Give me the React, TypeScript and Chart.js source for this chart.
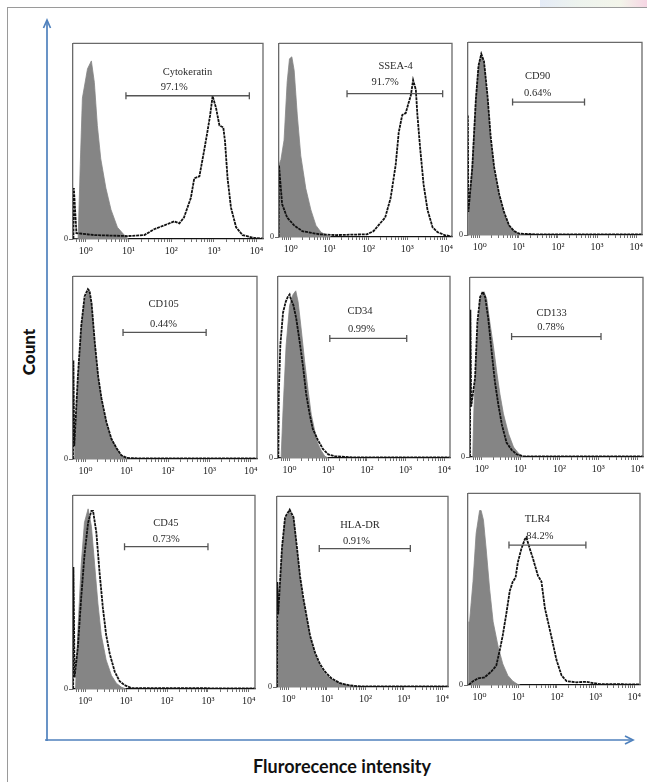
import React, { useEffect, useRef } from "react";
import { Chart, registerables } from "chart.js";
Chart.register(...registerables);

type Pt = [number, number];

// ---- axis ticks (x in decades of fluorescence intensity) ----
const decadeTicks = [0, 1, 2, 3, 4];
const decadeTickLabels = ["10⁰", "10¹", "10²", "10³", "10⁴"];
const minorMultipliers = [2, 3, 4, 5, 6, 7, 8, 9];
const minorDecades = [-1, 0, 1, 2, 3];
const countTicks = [0];
const countTickLabels = ["0"];
const xMin = -0.3;
const xMax = 4.15;

// ---- panel annotations ----
const markerNames = ["Cytokeratin", "SSEA-4", "CD90", "CD105", "CD34", "CD133", "CD45", "HLA-DR", "TLR4"];
const percentPositive = ["97.1%", "91.7%", "0.64%", "0.44%", "0.99%", "0.78%", "0.73%", "0.91%", "84.2%"];
const gateStart = [0.94, 1.45, 0.84, 0.91, 1.04, 0.77, 0.96, 0.8, 0.76];
const gateEnd = [3.83, 3.91, 2.68, 2.92, 3.03, 3.07, 3.0, 3.17, 2.75];
const gateLevel = [73.2, 74, 69, 69.3, 65.8, 67, 73.5, 72.6, 73];
const nameAt: Pt[] = [[2.38, 85], [2.7, 88], [1.48, 82.6], [1.89, 84.5], [1.82, 81], [1.8, 80], [1.97, 85.7], [1.86, 85], [1.49, 86.3]];
const percentAt: Pt[] = [[2.07, 77.4], [2.43, 80], [1.48, 73.6], [1.89, 73.8], [1.86, 71], [1.78, 72], [1.98, 77.2], [1.77, 76.5], [1.56, 77.8]];

// ---- histograms: [decade, % of max count] ----
const isoCytokeratin: Pt[] = [[-0.3, 0], [-0.18, 0], [-0.13, 38], [-0.08, 72], [0.04, 87], [0.13, 91], [0.2, 80], [0.27, 58], [0.35, 41], [0.47, 26], [0.59, 15], [0.74, 6], [0.9, 2], [1.0, 0]];
const cytokeratin: Pt[] = [[-0.29, 0], [-0.28, 26], [-0.22, 3], [0.2, 2], [0.98, 1.5], [1.37, 2], [1.6, 5], [1.84, 7], [2.07, 9], [2.19, 8], [2.3, 11], [2.46, 21], [2.54, 31], [2.66, 32], [2.77, 45], [2.85, 55], [2.91, 63], [2.97, 73], [3.05, 67], [3.13, 58], [3.22, 57], [3.26, 50], [3.32, 31], [3.4, 16], [3.52, 6], [3.67, 2], [3.95, 0.5], [4.15, 0.3]];

const isoSSEA4: Pt[] = [[-0.31, 0], [-0.305, 37], [-0.25, 40], [-0.17, 50], [-0.09, 80], [-0.03, 92], [0.03, 93], [0.09, 86], [0.17, 63], [0.26, 42], [0.39, 25], [0.52, 14], [0.65, 6], [0.78, 2.5], [0.91, 1], [1.04, 0]];
const ssea4: Pt[] = [[-0.31, 0], [-0.3, 37], [-0.22, 17], [-0.09, 10], [0.09, 6], [0.3, 3], [0.74, 1.4], [1.17, 1], [1.96, 1.4], [2.13, 3], [2.3, 7], [2.43, 10], [2.57, 20], [2.7, 37], [2.78, 54], [2.87, 63], [2.96, 64], [3.03, 69], [3.09, 73], [3.15, 81], [3.22, 76], [3.26, 63], [3.33, 46], [3.42, 27], [3.52, 14], [3.65, 5], [3.78, 2.5], [3.96, 1], [4.15, 0.3]];

const isoCD90: Pt[] = [[-0.3, 0], [-0.29, 10], [-0.19, 37], [-0.1, 71], [-0.03, 88], [0.05, 93], [0.11, 89], [0.2, 71], [0.28, 49], [0.37, 33], [0.5, 20], [0.62, 11], [0.75, 5], [0.88, 2], [1.01, 0.5], [1.18, 0]];
const cd90: Pt[] = [[-0.31, 0], [-0.305, 62], [-0.29, 12], [-0.19, 35], [-0.1, 70], [-0.03, 88], [0.04, 94], [0.11, 90], [0.2, 72], [0.28, 51], [0.37, 35], [0.5, 21], [0.62, 12], [0.75, 5], [0.88, 2], [1.01, 0.7], [1.5, 0.3], [4.15, 0.3]];

const isoCD105: Pt[] = [[-0.27, 0], [-0.26, 8], [-0.18, 44], [-0.1, 71], [-0.02, 87], [0.06, 92], [0.09, 92], [0.15, 84], [0.23, 62], [0.31, 44], [0.39, 32], [0.51, 19], [0.63, 11], [0.75, 6], [0.87, 2], [1.0, 0.5], [1.1, 0]];
const cd105: Pt[] = [[-0.3, 0], [-0.29, 54], [-0.27, 7], [-0.18, 46], [-0.1, 73], [-0.02, 89], [0.06, 93], [0.1, 92], [0.15, 85], [0.23, 63], [0.31, 45], [0.39, 33], [0.51, 20], [0.63, 11], [0.75, 6], [0.87, 2], [1.0, 0.6], [1.3, 0.3], [4.15, 0.3]];

const isoCD34: Pt[] = [[-0.22, 0], [-0.17, 26], [-0.09, 62], [0, 84], [0.09, 90], [0.16, 92], [0.22, 86], [0.3, 71], [0.39, 53], [0.48, 37], [0.56, 24], [0.65, 15], [0.73, 8], [0.82, 4], [0.91, 1], [1.0, 0]];
const cd34: Pt[] = [[-0.3, 0], [-0.29, 1], [-0.28, 35], [-0.24, 62], [-0.17, 80], [-0.1, 86], [-0.04, 89], [0, 90], [0.04, 87], [0.1, 84], [0.17, 77], [0.26, 64], [0.35, 50], [0.43, 35], [0.52, 24], [0.6, 16], [0.73, 10], [0.86, 5], [1.0, 2], [1.17, 1], [1.64, 0.3], [4.15, 0.3]];

const isoCD133: Pt[] = [[-0.23, 0], [-0.2, 26], [-0.13, 62], [-0.04, 88], [0.06, 92], [0.13, 88], [0.21, 75], [0.3, 62], [0.39, 47], [0.47, 35], [0.56, 24], [0.69, 13], [0.82, 5.5], [0.95, 2], [1.07, 0]];
const cd133: Pt[] = [[-0.3, 0], [-0.29, 82], [-0.27, 28], [-0.17, 44], [-0.11, 75], [-0.04, 89], [0.03, 92], [0.09, 89], [0.17, 77], [0.26, 58], [0.34, 42], [0.43, 29], [0.52, 18], [0.64, 8], [0.77, 4], [0.9, 1.5], [1.07, 0.4], [4.15, 0.3]];

const isoCD45: Pt[] = [[-0.24, 0], [-0.18, 30], [-0.1, 64], [-0.02, 86], [0.07, 93], [0.15, 84], [0.23, 64], [0.31, 44], [0.39, 28], [0.51, 15], [0.64, 7], [0.76, 3], [0.88, 1], [1.0, 0]];
const cd45: Pt[] = [[-0.295, 0], [-0.29, 63], [-0.26, 6], [-0.18, 22], [-0.1, 47], [-0.02, 69], [0.07, 86], [0.15, 92], [0.19, 92], [0.27, 81], [0.35, 60], [0.43, 42], [0.51, 28], [0.6, 18], [0.72, 9], [0.84, 4], [0.96, 2], [1.13, 0.5], [4.15, 0.3]];

const isoHLADR: Pt[] = [[-0.3, 0], [-0.29, 30], [-0.26, 38], [-0.17, 72], [-0.09, 88], [0.03, 92], [0.13, 88], [0.22, 72], [0.3, 57], [0.39, 45], [0.48, 35], [0.56, 26], [0.69, 17], [0.82, 11], [0.95, 7], [1.12, 4], [1.34, 2], [1.6, 0.7], [1.86, 0]];
const hladr: Pt[] = [[-0.3, 0], [-0.29, 55], [-0.27, 38], [-0.17, 73], [-0.09, 89], [0.03, 93], [0.13, 89], [0.22, 73], [0.3, 58], [0.39, 46], [0.48, 36], [0.56, 27], [0.69, 18], [0.82, 12], [0.95, 8], [1.12, 4.5], [1.34, 2], [1.6, 0.8], [1.9, 0.3], [4.15, 0.3]];

const isoTLR4: Pt[] = [[-0.29, 0], [-0.28, 33], [-0.26, 33], [-0.17, 54], [-0.09, 79], [0, 91], [0.04, 91], [0.1, 86], [0.17, 71], [0.26, 50], [0.35, 33], [0.48, 20], [0.6, 11], [0.73, 5], [0.86, 2], [0.99, 0.3], [1.05, 0]];
const tlr4: Pt[] = [[-0.28, 0], [-0.17, 2], [-0.04, 3.4], [0.13, 4], [0.3, 7], [0.43, 10], [0.52, 18], [0.6, 26], [0.69, 37], [0.78, 49], [0.86, 54], [0.93, 56], [0.99, 64], [1.08, 71], [1.17, 76], [1.21, 77], [1.3, 71], [1.38, 66], [1.51, 57], [1.6, 54], [1.69, 40], [1.77, 33], [1.86, 25], [1.99, 13], [2.12, 5], [2.25, 2], [2.51, 1.4], [2.77, 1.7], [2.94, 1], [3.11, 0.5], [4.15, 0.3]];

const isotypeSeries = [isoCytokeratin, isoSSEA4, isoCD90, isoCD105, isoCD34, isoCD133, isoCD45, isoHLADR, isoTLR4];
const sampleSeries = [cytokeratin, ssea4, cd90, cd105, cd34, cd133, cd45, hladr, tlr4];

// ---- layout (page px): plot area [left, top, right, bottom] ----
const plotBoxes = [
  [73, 40, 263, 239], [279, 40, 452, 237], [468, 39, 642, 235],
  [73, 273, 257, 459], [278, 273, 450, 458], [470, 274, 643, 457],
  [73, 492, 255, 689], [277, 493, 448, 687], [468, 490, 640, 685],
];
const Y_AXIS_W = 14;
const X_AXIS_H = 22;
const PAD_R = 9;
const PAD_T = 2;

const xTickValues = (() => {
  const v: number[] = [...decadeTicks];
  minorDecades.forEach((k) => minorMultipliers.forEach((m) => v.push(k + Math.log10(m))));
  return v.filter((t) => t >= xMin - 1e-9 && t <= xMax).sort((a, b) => a - b);
})();

const SERIF = '"Liberation Serif", "DejaVu Serif", serif';

function Panel({ index }: { index: number }) {
  const ref = useRef<HTMLCanvasElement | null>(null);
  const [l, t, r, b] = plotBoxes[index];
  const w = r - l + Y_AXIS_W + PAD_R;
  const h = b - t + PAD_T + X_AXIS_H;
  useEffect(() => {
    if (!ref.current) return;
    const toXY = (p: Pt[]) => p.map(([x, y]) => ({ x, y }));
    const framePlugin = {
      id: "frame" + index,
      afterDraw(chart: any) {
        const { ctx, chartArea: a } = chart;
        ctx.save();
        ctx.strokeStyle = "#6a6a6a";
        ctx.lineWidth = 1.3;
        ctx.beginPath();
        ctx.moveTo(a.left, a.top);
        ctx.lineTo(a.right, a.top);
        ctx.lineTo(a.right, a.bottom);
        ctx.stroke();
        ctx.restore();
      },
      afterDatasetsDraw(chart: any) {
        const { ctx } = chart;
        const xs = chart.scales.x;
        const ys = chart.scales.y;
        ctx.save();
        ctx.fillStyle = "#2a2a2a";
        ctx.font = "10.5px " + SERIF;
        ctx.textAlign = "center";
        ctx.textBaseline = "middle";
        ctx.fillText(markerNames[index], xs.getPixelForValue(nameAt[index][0]), ys.getPixelForValue(nameAt[index][1]));
        ctx.fillText(percentPositive[index], xs.getPixelForValue(percentAt[index][0]), ys.getPixelForValue(percentAt[index][1]));
        ctx.restore();
      },
    };
    const chart = new Chart(ref.current, {
      type: "line",
      data: {
        datasets: [
          {
            label: "gate",
            data: [{ x: gateStart[index], y: gateLevel[index] }, { x: gateEnd[index], y: gateLevel[index] }],
            borderColor: "#555",
            borderWidth: 1.3,
            pointStyle: "line",
            pointRotation: 90,
            pointRadius: 3.5,
            pointBorderColor: "#555",
            pointBorderWidth: 1.3,
            fill: false,
            order: 0,
          } as any,
          {
            label: markerNames[index],
            data: toXY(sampleSeries[index]),
            borderColor: "#111",
            borderWidth: 1.8,
            borderDash: [3, 0.8],
            pointRadius: 0,
            fill: false,
            tension: 0,
            order: 1,
          },
          {
            label: "isotype",
            data: toXY(isotypeSeries[index]),
            borderColor: "#858585",
            backgroundColor: "#858585",
            borderWidth: 0.8,
            pointRadius: 0,
            fill: "origin",
            tension: 0,
            order: 2,
          },
        ],
      },
      options: {
        animation: false,
        responsive: false,
        events: [],
        layout: { padding: { left: 0, right: PAD_R, top: PAD_T, bottom: 0 } },
        plugins: { legend: { display: false }, tooltip: { enabled: false } },
        scales: {
          x: {
            type: "linear",
            min: xMin,
            max: xMax,
            afterBuildTicks: (s: any) => {
              s.ticks = xTickValues.map((v) => ({ value: v }));
            },
            afterFit: (s: any) => {
              s.height = X_AXIS_H;
              s.paddingLeft = 0;
              s.paddingRight = 0;
            },
            ticks: {
              autoSkip: false,
              maxRotation: 0,
              padding: 3,
              color: "#222",
              font: { size: 10, family: SERIF },
              callback: (v: any) => {
                const i = decadeTicks.indexOf(Math.round(Number(v) * 1000) / 1000);
                return i >= 0 ? decadeTickLabels[i] : "";
              },
            },
            grid: { display: true, drawOnChartArea: false, drawTicks: true, tickLength: 3, color: "#333", lineWidth: 0.7 },
            border: { display: true, color: "#111", width: 1.3 },
          },
          y: {
            type: "linear",
            min: 0,
            max: 100,
            afterBuildTicks: (s: any) => {
              s.ticks = countTicks.map((v) => ({ value: v }));
            },
            afterFit: (s: any) => {
              s.width = Y_AXIS_W;
              s.paddingTop = 0;
              s.paddingBottom = 0;
            },
            ticks: {
              padding: 1,
              color: "#222",
              font: { size: 8, family: SERIF },
              callback: (v: any) => {
                const i = countTicks.indexOf(Number(v));
                return i >= 0 ? countTickLabels[i] : "";
              },
            },
            grid: { display: true, drawOnChartArea: false, drawTicks: true, tickLength: 4, color: "#444", lineWidth: 0.8 },
            border: { display: true, color: "#6a6a6a", width: 1.3 },
          },
        },
      } as any,
      plugins: [framePlugin],
    });
    return () => chart.destroy();
  }, [index]);
  return (
    <canvas
      ref={ref}
      width={w}
      height={h}
      style={{ position: "absolute", left: l - Y_AXIS_W, top: t - PAD_T, width: w, height: h }}
    />
  );
}

export default function App() {
  const blue = "#4f81bd";
  return (
    <div style={{ position: "absolute", left: 0, top: 0, width: 647, height: 782, background: "#fff", overflow: "hidden" }}>
      <div style={{ position: "absolute", left: 540, top: 0, width: 107, height: 8, background: "linear-gradient(90deg, #e4ebf7 0%, #edf3ee 35%, #f3f5ea 75%, #f6d6e4 100%)" }} />
      <div style={{ position: "absolute", left: 7, top: 7, width: 660, height: 800, borderLeft: "1.5px solid #9a9a9a", borderTop: "1.5px solid #9a9a9a" }} />
      <svg width={647} height={782} style={{ position: "absolute", left: 0, top: 0 }}>
        <line x1={47} y1={741} x2={47} y2={21} stroke={blue} strokeWidth={1.7} />
        <polyline points="43.5,28 47,20 50.5,28" fill="none" stroke={blue} strokeWidth={1.7} />
        <line x1={45} y1={740} x2={632} y2={740} stroke={blue} strokeWidth={1.7} />
        <polyline points="625,736 633,740 625,744" fill="none" stroke={blue} strokeWidth={1.7} />
      </svg>
      <div
        style={{
          position: "absolute", left: 28, top: 352, transform: "translate(-50%, -50%) rotate(-90deg)",
          fontFamily: "Lato, 'Open Sans', sans-serif", fontWeight: 900, fontSize: 17, color: "#111", whiteSpace: "nowrap",
        }}
      >
        Count
      </div>
      <div
        style={{
          position: "absolute", left: 342, top: 766, transform: "translate(-50%, -50%)",
          fontFamily: "Lato, 'Open Sans', sans-serif", fontWeight: 700, fontSize: 18, color: "#111", whiteSpace: "nowrap",
        }}
      >
        Flurorecence intensity
      </div>
      {plotBoxes.map((_, i) => (
        <Panel key={i} index={i} />
      ))}
    </div>
  );
}
